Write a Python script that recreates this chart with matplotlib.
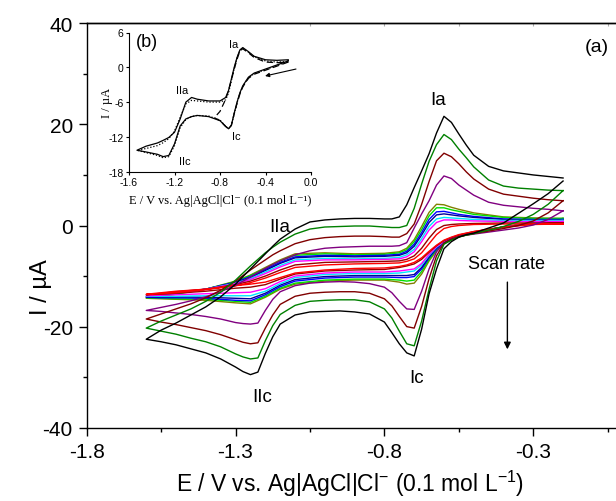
import matplotlib
matplotlib.use('Agg')
import matplotlib.pyplot as plt

plt.rcParams['font.family'] = ['Liberation Sans', 'DejaVu Sans']
plt.rcParams['axes.unicode_minus'] = False
plt.rcParams['mathtext.fontset'] = 'custom'
plt.rcParams['mathtext.rm'] = 'Liberation Sans'
plt.rcParams['mathtext.default'] = 'regular'

# ---------------- main panel (a) data ----------------
# potential grid for the four largest (fastest) scans
E_big = [-1.60, -1.55, -1.50, -1.45, -1.40, -1.35, -1.30, -1.275, -1.25, -1.225, -1.20,
         -1.175, -1.15, -1.10, -1.05, -1.00, -0.95, -0.90, -0.85, -0.80, -0.775, -0.75,
         -0.725, -0.70, -0.675, -0.65, -0.625, -0.60, -0.575, -0.55, -0.525, -0.50,
         -0.45, -0.40, -0.35, -0.30, -0.25, -0.20]

black_up = [-22.5, -20.7, -19.3, -17.7, -16.1, -14.1, -11.6, -10.1, -8.6, -7.1, -5.6,
            -4.1, -2.7, -0.7, 0.7, 1.1, 1.3, 1.4, 1.4, 1.3, 1.3, 1.7,
            4.1, 7.5, 10.8, 14.2, 18.3, 21.6, 20.4, 18.1, 15.9, 13.9,
            11.7, 10.8, 10.4, 10.0, 9.7, 9.4]
black_dn = [-22.5, -23.0, -23.6, -24.4, -25.2, -26.4, -28.0, -28.9, -29.5, -29.0, -25.3,
            -22.0, -19.5, -17.7, -17.1, -17.0, -16.9, -17.1, -17.5, -19.1, -21.2, -23.4,
            -25.2, -25.8, -20.5, -13.5, -8.6, -4.6, -3.2, -2.3, -1.8, -1.5,
            -0.5, 0.5, 2.4, 4.3, 6.3, 8.8]
green_up = [-20.3, -18.9, -17.7, -16.5, -15.0, -13.2, -10.8, -9.4, -8.0, -6.7, -5.4,
            -4.3, -3.3, -1.7, -0.7, -0.3, -0.2, -0.1, -0.1, -0.3, -0.4, -0.4,
            0.0, 3.4, 8.2, 12.7, 16.0, 18.0, 17.0, 15.1, 13.4, 11.6,
            9.0, 7.8, 7.4, 7.2, 7.0, 6.9]
green_dn = [-20.3, -20.9, -21.5, -22.3, -23.0, -24.0, -25.4, -26.0, -26.4, -26.2, -22.8,
            -19.8, -17.6, -15.8, -15.0, -14.8, -14.7, -14.7, -15.1, -16.5, -18.3, -20.9,
            -23.4, -23.8, -18.9, -12.6, -7.0, -3.7, -2.9, -2.3, -1.9, -1.6,
            -0.9, -0.2, 0.8, 2.2, 4.2, 6.9]
dred_up = [-18.5, -17.5, -16.5, -15.5, -14.3, -12.8, -11.0, -9.9, -8.8, -7.8, -6.8,
           -5.8, -5.0, -3.6, -2.8, -2.4, -2.2, -2.1, -2.1, -2.2, -2.3, -2.3,
           -1.6, 0.3, 4.2, 8.7, 12.8, 14.3, 13.6, 12.2, 10.6, 9.2,
           7.2, 6.2, 5.8, 5.4, 5.1, 4.9]
dred_dn = [-18.5, -19.1, -19.6, -20.2, -20.8, -21.6, -22.6, -23.1, -23.4, -23.2, -20.3,
           -17.7, -15.6, -14.0, -13.4, -13.2, -13.1, -13.1, -13.4, -14.5, -15.9, -18.0,
           -20.0, -20.3, -16.0, -10.5, -6.0, -3.5, -2.7, -2.2, -1.9, -1.6,
           -1.1, -0.6, 0.0, 0.9, 2.5, 4.9]
purple_up = [-16.8, -16.2, -15.6, -14.9, -14.1, -13.1, -11.8, -11.0, -10.2, -9.3, -8.5,
             -7.7, -7.0, -5.8, -5.0, -4.5, -4.3, -4.2, -4.1, -4.1, -4.1, -4.0,
             -3.4, -0.5, 2.3, 4.9, 8.0, 9.8, 9.3, 8.0, 7.0, 6.0,
             4.6, 4.0, 3.7, 3.4, 3.2, 2.9]
purple_dn = [-16.8, -17.0, -17.3, -17.6, -18.0, -18.5, -19.2, -19.4, -19.5, -19.3, -16.8,
             -14.6, -13.1, -11.9, -11.4, -11.2, -11.1, -11.2, -11.5, -12.2, -13.3, -15.0,
             -16.5, -16.6, -13.0, -8.6, -5.2, -3.4, -2.6, -2.2, -1.9, -1.7,
             -1.3, -0.9, -0.5, 0.1, 1.2, 2.9]

# potential grid for the slower scans (clustered curves)
E = [-1.60, -1.55, -1.50, -1.40, -1.30, -1.25, -1.20, -1.15, -1.10, -1.00, -0.90,
     -0.80, -0.75, -0.725, -0.70, -0.675, -0.65, -0.625, -0.60, -0.575, -0.55,
     -0.50, -0.40, -0.30, -0.20]

olive_up = [-14.4, -14.0, -13.6, -12.6, -11.0, -9.8, -8.3, -6.8, -5.6, -5.4, -5.6,
            -5.5, -5.2, -4.5, -2.8, -0.2, 2.6, 4.2, 4.1, 3.6, 3.2, 2.5, 1.7, 1.5, 1.4]
olive_dn = [-14.4, -14.5, -14.6, -14.8, -15.3, -15.5, -14.2, -12.6, -11.6, -11.0, -10.8,
            -10.8, -11.2, -11.6, -11.4, -9.6, -7.0, -5.0, -3.6, -2.8, -2.2, -1.4, -0.3, 0.5, 1.4]
lime_up = [-14.3, -13.9, -13.5, -12.6, -11.1, -9.9, -8.5, -7.0, -5.9, -5.6, -5.8,
           -5.7, -5.4, -4.8, -3.2, -0.8, 1.9, 3.5, 3.5, 3.1, 2.8, 2.2, 1.6, 1.4, 1.4]
lime_dn = [-14.3, -14.4, -14.5, -14.6, -15.0, -15.2, -14.0, -12.4, -11.4, -10.8, -10.6,
           -10.6, -10.8, -11.0, -10.8, -9.1, -6.7, -4.8, -3.5, -2.7, -2.2, -1.4, -0.3, 0.5, 1.4]
blue_up = [-14.2, -13.8, -13.4, -12.6, -11.2, -10.1, -8.7, -7.3, -6.2, -5.9, -6.0,
           -5.9, -5.7, -5.1, -3.7, -1.4, 1.2, 2.7, 2.8, 2.5, 2.2, 1.8, 1.3, 1.2, 1.2]
blue_dn = [-14.2, -14.3, -14.3, -14.4, -14.8, -14.9, -13.7, -12.1, -11.0, -10.4, -10.2,
           -10.2, -10.3, -10.3, -10.1, -8.6, -6.4, -4.6, -3.4, -2.7, -2.2, -1.4, -0.3, 0.5, 1.2]
navy_up = [-14.1, -13.7, -13.3, -12.6, -11.3, -10.3, -8.9, -7.5, -6.4, -6.1, -6.2,
           -6.1, -5.9, -5.4, -4.1, -1.9, 0.6, 2.1, 2.3, 2.1, 1.9, 1.6, 1.2, 1.1, 1.1]
navy_dn = [-14.1, -14.1, -14.1, -14.2, -14.4, -14.5, -13.4, -11.8, -10.7, -10.1, -9.9,
           -9.9, -9.9, -9.9, -9.7, -8.3, -6.2, -4.5, -3.3, -2.6, -2.1, -1.3, -0.3, 0.5, 1.1]
cyan_up = [-14.0, -13.6, -13.3, -12.6, -11.4, -10.5, -9.2, -7.9, -6.8, -6.5, -6.6,
           -6.5, -6.3, -5.8, -4.7, -2.6, -0.2, 1.3, 1.6, 1.5, 1.4, 1.2, 1.0, 1.0, 1.0]
cyan_dn = [-14.0, -14.0, -14.0, -13.9, -13.9, -13.9, -13.0, -11.5, -10.3, -9.7, -9.5,
           -9.5, -9.4, -9.2, -9.0, -7.8, -5.9, -4.3, -3.2, -2.5, -2.0, -1.3, -0.3, 0.5, 1.0]
mag_up = [-13.9, -13.5, -13.2, -12.6, -11.5, -10.7, -9.5, -8.2, -7.1, -6.8, -6.8,
          -6.7, -6.6, -6.2, -5.2, -3.2, -0.9, 0.6, 1.1, 1.1, 1.0, 0.9, 0.8, 0.8, 0.8]
mag_dn = [-13.9, -13.8, -13.7, -13.5, -13.3, -13.2, -12.5, -11.1, -10.0, -9.4, -9.2,
          -9.2, -9.0, -8.8, -8.6, -7.5, -5.7, -4.2, -3.1, -2.5, -2.0, -1.3, -0.3, 0.4, 0.8]
brown_up = [-13.7, -13.4, -13.1, -12.6, -11.7, -11.0, -10.0, -8.8, -7.8, -7.3, -7.2,
            -7.1, -7.0, -6.7, -6.0, -4.5, -2.5, -0.8, 0.0, 0.2, 0.3, 0.4, 0.5, 0.5, 0.5]
brown_dn = [-13.7, -13.6, -13.4, -13.0, -12.4, -12.2, -11.7, -10.6, -9.6, -9.0, -8.8,
            -8.7, -8.3, -8.0, -7.6, -6.7, -5.3, -4.0, -3.0, -2.4, -1.9, -1.2, -0.3, 0.3, 0.5]
red_up = [-13.6, -13.3, -13.0, -12.6, -11.9, -11.3, -10.4, -9.3, -8.3, -7.8, -7.6,
          -7.5, -7.4, -7.1, -6.6, -5.4, -3.6, -1.8, -0.6, -0.2, 0.0, 0.2, 0.3, 0.3, 0.3]
red_dn = [-13.6, -13.5, -13.3, -12.7, -11.9, -11.6, -11.2, -10.3, -9.4, -8.8, -8.5,
          -8.4, -8.1, -7.8, -7.3, -6.4, -5.1, -3.9, -2.9, -2.3, -1.8, -1.2, -0.3, 0.2, 0.3]

curves = [
    (E, '#808000', olive_up, olive_dn),
    (E, '#00e000', lime_up, lime_dn),
    (E, '#0000ff', blue_up, blue_dn),
    (E, '#000099', navy_up, navy_dn),
    (E, '#00e5ff', cyan_up, cyan_dn),
    (E, '#ff00ff', mag_up, mag_dn),
    (E, '#990000', brown_up, brown_dn),
    (E, '#ff0000', red_up, red_dn),
    (E_big, '#800080', purple_up, purple_dn),
    (E_big, '#800000', dred_up, dred_dn),
    (E_big, '#008000', green_up, green_dn),
    (E_big, '#000000', black_up, black_dn),
]

x_ticks = [-1.8, -1.3, -0.8, -0.3]
x_ticklabels = ['-1.8', '-1.3', '-0.8', '-0.3']
x_minor = [-1.55, -1.05, -0.55, -0.05]
y_ticks = [-40, -20, 0, 20, 40]
y_ticklabels = ['-40', '-20', '0', '20', '40']
y_minor = [-30, -10, 10, 30]

# ---------------- inset (b) data ----------------
Eb = [-1.53, -1.45, -1.35, -1.30, -1.25, -1.20, -1.15, -1.10, -1.05, -1.00, -0.90,
      -0.80, -0.75, -0.725, -0.70, -0.675, -0.65, -0.625, -0.60, -0.55, -0.50,
      -0.40, -0.30, -0.20]
solid_up = [-14.3, -13.6, -13.05, -12.6, -12.1, -11.2, -8.9, -6.0, -5.2, -5.5, -5.8,
            -5.8, -5.2, -4.0, -2.0, 0.0, 1.7, 3.0, 3.4, 2.7, 1.9, 1.3, 1.2, 1.3]
solid_dn = [-14.3, -14.6, -15.0, -15.4, -15.2, -13.2, -10.1, -8.9, -8.5, -8.3, -8.5,
            -9.2, -10.2, -10.6, -10.0, -7.9, -6.0, -4.4, -3.2, -1.7, -1.0, -0.3, 0.4, 1.1]
dot_up = [-14.3, -14.0, -13.5, -13.0, -12.3, -11.0, -8.6, -6.3, -5.7, -5.8, -6.0,
          -6.0, -5.6, -4.4, -2.3, -0.2, 1.6, 2.9, 3.3, 2.6, 1.8, 1.1, 0.9, 1.0]
dot_dn = [-14.3, -14.7, -15.2, -15.6, -15.4, -13.5, -10.4, -9.0, -8.5, -8.3, -8.4,
          -9.1, -10.2, -10.6, -10.0, -8.0, -6.1, -4.5, -3.3, -1.8, -1.1, -0.4, 0.3, 1.0]
Ed = [-0.85, -0.80, -0.75, -0.725, -0.70, -0.675, -0.65, -0.625, -0.60, -0.55, -0.50,
      -0.40, -0.30, -0.20]
dash_up = [-8.7, -7.6, -5.5, -4.0, -2.2, -0.3, 1.4, 2.8, 3.2, 2.5, 1.7, 0.9, 0.8, 0.9]
dash_dn = [-8.7, -9.2, -10.2, -10.6, -10.0, -8.0, -6.2, -4.6, -3.4, -1.9, -1.2, -0.5, 0.2, 0.9]

xb_ticks = [-1.6, -1.2, -0.8, -0.4, 0.0]
xb_ticklabels = ['-1.6', '-1.2', '-0.8', '-0.4', '0.0']
yb_ticks = [-18, -12, -6, 0, 6]
yb_ticklabels = ['-18', '-12', '-6', '0', '6']

# ---------------- figure ----------------
fig = plt.figure(figsize=(6.16, 5.02), dpi=100)
ax = fig.add_axes([86.7 / 616, 1 - 428.7 / 502, (622.6 - 86.7) / 616, 404.4 / 502])

for grid, color, up, dn in curves:
    ax.plot(grid[::-1] + grid, dn[::-1] + up, color=color, lw=1.0,
            solid_joinstyle='round')

ax.set_xlim(-1.8, 0.0)
ax.set_ylim(-40, 40)
ax.set_xticks(x_ticks)
ax.set_xticklabels(x_ticklabels)
ax.set_xticks(x_minor, minor=True)
ax.set_yticks(y_ticks)
ax.set_yticklabels(y_ticklabels)
ax.set_yticks(y_minor, minor=True)
ax.tick_params(which='major', direction='out', length=6, width=1.0, labelsize=15, pad=4)
ax.tick_params(which='minor', direction='out', length=3, width=1.0)
for s in ax.spines.values():
    s.set_linewidth(1.0)

# faint inward ticks on the top frame
top = ax.secondary_xaxis('top')
top.set_xticks([-1.05, -0.8, -0.55, -0.3, -0.05])
top.set_xticklabels([])
top.tick_params(direction='in', length=2, width=0.8, color='#aaaaaa')
top.spines['top'].set_linewidth(1.0)

ax.text(-0.619, 25.0, 'Ia', fontsize=13.5, ha='center', va='center')
ax.text(-1.150, -0.2, 'IIa', fontsize=13.5, ha='center', va='center')
ax.text(-0.692, -30.0, 'Ic', fontsize=13.5, ha='center', va='center')
ax.text(-1.211, -33.9, 'IIc', fontsize=13.5, ha='center', va='center')
ax.text(-0.086, 35.5, '(a)', fontsize=14, ha='center', va='center')
ax.text(-0.391, -7.6, 'Scan rate', fontsize=13, ha='center', va='center')
ax.annotate('', xy=(-0.387, -24.5), xytext=(-0.387, -11.2),
            arrowprops=dict(arrowstyle='-|>', color='black', lw=1.0,
                            mutation_scale=10, shrinkA=0, shrinkB=0))

fig.text(41 / 616, 1 - 287 / 502, 'I / µA', rotation=90, fontsize=17,
         ha='center', va='center')
fig.text(350 / 616, 1 - 484 / 502,
         r'E / V vs. Ag|AgCl|Cl$^{-}$ (0.1 mol L$^{-1}$)', fontsize=16.5,
         ha='center', va='center')

# ---------------- inset ----------------
axi = fig.add_axes([129 / 616, 1 - 172.7 / 502, 182 / 616, 139.2 / 502])
axi.set_facecolor('none')
axi.plot(Eb[::-1] + Eb, solid_dn[::-1] + solid_up, color='black', lw=0.9)
axi.plot(Eb[::-1] + Eb, dot_dn[::-1] + dot_up, color='black', lw=0.9, ls=(0, (1, 1.5)))
axi.plot(Ed[::-1] + Ed, dash_dn[::-1] + dash_up, color='black', lw=0.9, ls=(0, (5, 3)))
axi.set_xlim(-1.6, 0.0)
axi.set_ylim(-18, 6)
axi.spines['top'].set_visible(False)
axi.spines['right'].set_visible(False)
axi.set_xticks(xb_ticks)
axi.set_xticklabels(xb_ticklabels)
axi.set_yticks(yb_ticks)
axi.set_yticklabels(yb_ticklabels)
axi.tick_params(direction='out', length=2.5, width=0.8, labelsize=7.5, pad=1.5)
for s in axi.spines.values():
    s.set_linewidth(0.8)
axi.annotate('', xy=(-0.404, -1.5), xytext=(-0.132, -0.3),
             arrowprops=dict(arrowstyle='-|>', color='black', lw=0.8,
                             mutation_scale=6, shrinkA=0, shrinkB=0))
axi.text(-0.682, 4.0, 'Ia', fontsize=8, ha='center', va='center')
axi.text(-1.137, -4.0, 'IIa', fontsize=8, ha='center', va='center')
axi.text(-0.653, -11.8, 'Ic', fontsize=8, ha='center', va='center')
axi.text(-1.108, -16.1, 'IIc', fontsize=8, ha='center', va='center')
axi.text(-1.446, 4.4, '(b)', fontsize=13, ha='center', va='center')

serif = ['Liberation Serif', 'DejaVu Serif']
fig.text(220 / 616, 1 - 201.5 / 502, 'E / V vs. Ag|AgCl|Cl⁻ (0.1 mol L⁻¹)',
         family=serif, fontsize=9, ha='center', va='center')
fig.text(107 / 616, 1 - 103 / 502, 'I / µA', family=serif, fontsize=9,
         rotation=90, ha='center', va='center')

fig.savefig('out.png', dpi=100)
